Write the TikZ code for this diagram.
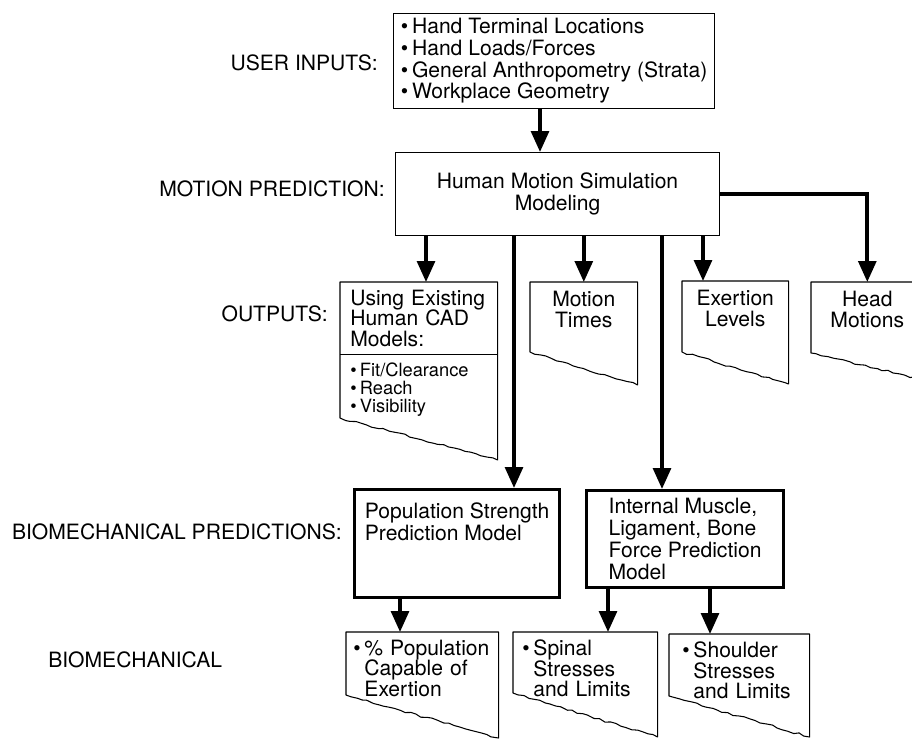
\documentclass[tikz,border=0pt]{standalone}
\usepackage{fontspec}
\setmainfont{TeX Gyre Heros}
\usetikzlibrary{arrows.meta,positioning,calc,decorations.pathmorphing}
\newcommand\bul{\textbullet\hspace{0.18em}}
\newcommand\bulgap{\phantom{\bul}}
\newcommand\tornedge[3]{%
  \draw[docline] (#1.north west) -- ++(0,#2)
    decorate[tornpath]{-- ($(#1.north east)+(0,#3)$)} -- (#1.north east) -- cycle;}
\tikzset{
  stagelbl/.style={anchor=east, inner sep=0pt, font=\fontsize{15}{18}\selectfont},
  inbox/.style={rectangle, draw=black, line width=0.75pt, anchor=north west, align=left, font=\fontsize{15}{15.5}\selectfont},
  simbox/.style={rectangle, draw=black, line width=0.75pt, anchor=north west, align=center, font=\fontsize{15}{15.5}\selectfont},
  biobox/.style={rectangle, draw=black, line width=2.2pt, anchor=north west, align=left, font=\fontsize{15}{15.5}\selectfont},
  docbox/.style={rectangle, anchor=north west, inner xsep=0pt, inner ysep=6.5pt, align=center, font=\fontsize{15}{14.8}\selectfont},
  doclist/.style={rectangle, anchor=north west, inner ysep=5.5pt, align=left, font=\fontsize{15}{14.5}\selectfont},
  docline/.style={line width=0.75pt, line join=round},
  tornpath/.style={decoration={random steps, segment length=4pt, amplitude=0.8pt}},
  flowarrow/.style={-{Triangle[length=5.2mm, width=4.4mm]}, line width=2.6pt}
}

\begin{document}
\begin{tikzpicture}[x=0.025cm, y=-0.025cm]
\pgfmathsetseed{31}
\useasboundingbox (0,0) rectangle (912,739);

\node[stagelbl] (lblinputs) at (378,63) {USER INPUTS:};
\node[stagelbl] (lblmotion) at (385,189) {MOTION PREDICTION:};
\node[stagelbl] (lbloutputs) at (328,314) {OUTPUTS:};
\node[stagelbl] (lblbiopred) at (342,532) {BIOMECHANICAL PREDICTIONS:};
\node[stagelbl, anchor=west] (lblbio) at (48,660) {BIOMECHANICAL};

\node[inbox, minimum width=8.025cm, minimum height=2.35cm] (inputs) at (393,13)
  {\bul Hand Terminal Locations\\\bul Hand Loads/Forces\\\bul General Anthropometry (Strata)\\\bul Workplace Geometry};
\node[simbox, minimum width=8.1cm, minimum height=2.075cm] (motion) at (395,152)
  {Human Motion Simulation\\Modeling};

\node[doclist, inner xsep=0.25cm, inner ysep=0pt, text width=3.425cm, minimum height=1.8cm] (cad) at (340,282)
  {Using Existing\\Human CAD\\Models:};
\node[doclist, inner xsep=0.25cm, text width=3.425cm, font=\fontsize{13}{13}\selectfont] (cadlist) at (cad.south west)
  {\bul Fit/Clearance\\\bul Reach\\\bul Visibility};
\tornedge{cad}{136}{178}
\draw[docline] (cad.south west) -- (cad.south east);

\node[docbox, text width=2.675cm] (times) at (530,282) {Motion\\Times};
\tornedge{times}{70}{103}
\node[docbox, text width=2.65cm] (exert) at (682,281) {Exertion\\Levels};
\tornedge{exert}{71}{103}
\node[docbox, text width=2.8cm] (head) at (811,282) {Head\\Motions};
\begin{scope}
\clip (0,0) rectangle (912,739);
\tornedge{head}{71}{98}
\end{scope}

\node[biobox, minimum width=5.125cm, minimum height=2.7cm] (pop) at (353,488)
  {Population Strength\\Prediction Model\\\mbox{}\\\mbox{}};
\node[biobox, minimum width=4.925cm, minimum height=2.425cm] (internal) at (585,489)
  {Internal Muscle,\\Ligament, Bone\\Force Prediction\\Model};

\node[doclist, inner xsep=0.175cm, text width=3.45cm] (pct) at (346,632)
  {\bul\% Population\\\bulgap Capable of\\\bulgap Exertion};
\tornedge{pct}{63}{106}
\node[doclist, inner xsep=0.225cm, text width=3.15cm] (spinal) at (513,632)
  {\bul Spinal\\\bulgap Stresses\\\bulgap and Limits};
\tornedge{spinal}{61}{105}
\node[doclist, inner xsep=0.325cm, text width=2.85cm] (shoulder) at (669,634)
  {\bul Shoulder\\\bulgap Stresses\\\bulgap and Limits};
\tornedge{shoulder}{62}{103}

\coordinate (colinput) at (540,0);
\coordinate (colcad) at (426,0);
\coordinate (colpop) at (514,0);
\coordinate (colint) at (662,0);
\coordinate (colexert) at (703,0);
\coordinate (colpct) at (400,0);
\coordinate (colspine) at (608,0);
\coordinate (colshoulder) at (710,0);

\draw[flowarrow] (inputs.south -| colinput) -- (motion.north -| colinput);
\draw[flowarrow] (motion.south -| colcad) -- (cad.north -| colcad);
\draw[flowarrow] (motion.south -| colpop) -- (pop.north -| colpop);
\draw[flowarrow] (motion.south -| times.north) -- (times.north);
\draw[flowarrow] (motion.south -| colint) -- (internal.north -| colint);
\draw[flowarrow] (motion.south -| colexert) -- (exert.north -| colexert);
\draw[flowarrow] (motion.east) -| (head.north);
\draw[flowarrow] (pop.south -| colpct) -- (pct.north -| colpct);
\draw[flowarrow] (internal.south -| colspine) -- (spinal.north -| colspine);
\draw[flowarrow] (internal.south -| colshoulder) -- (shoulder.north -| colshoulder);
\end{tikzpicture}
\end{document}
